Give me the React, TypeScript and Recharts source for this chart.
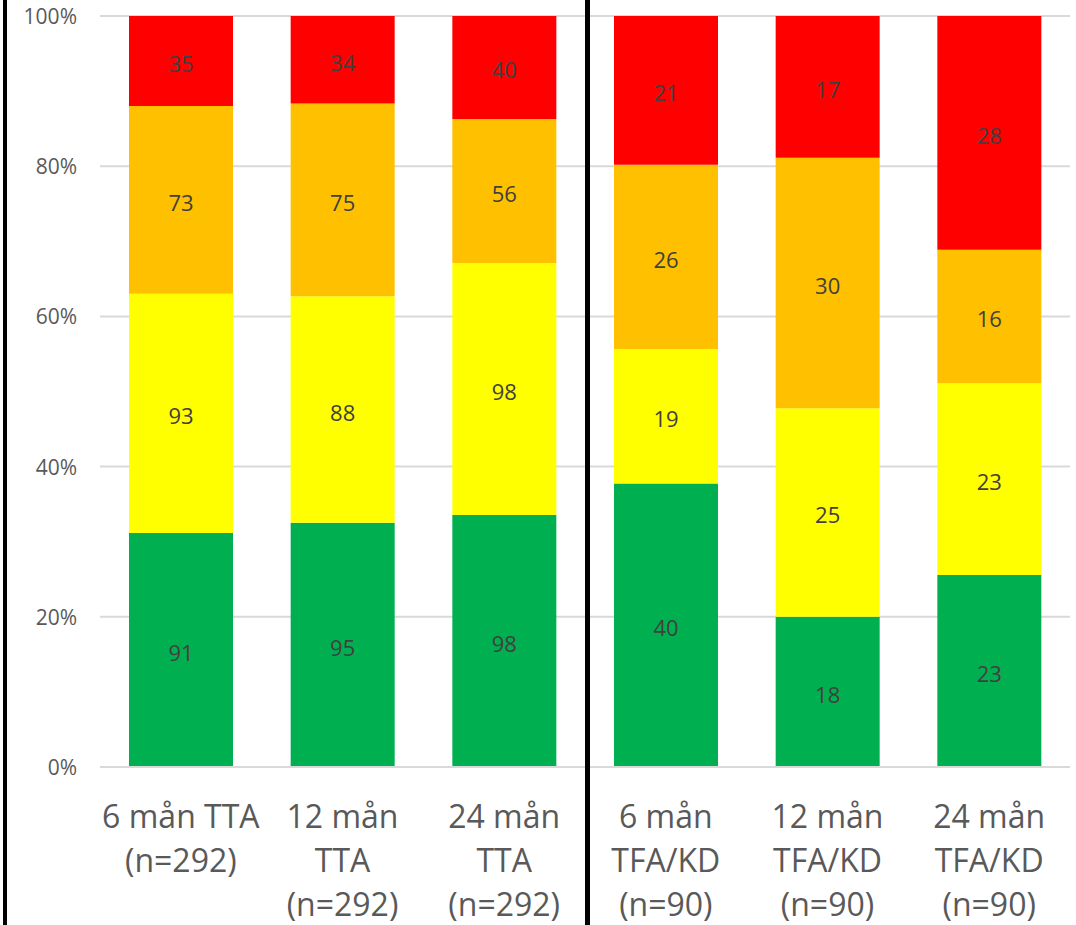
import React from "react";
import {
  BarChart,
  Bar,
  XAxis,
  YAxis,
  CartesianGrid,
  LabelList,
} from "recharts";

// groups: three TTA follow-ups, then three TFA/KD follow-ups
const periods = ["6 mån TTA", "12 mån TTA", "24 mån TTA", "6 mån TFA/KD", "12 mån TFA/KD", "24 mån TFA/KD"];
const tickLines = [
  ["6 mån TTA", "(n=292)"],
  ["12 mån", "TTA", "(n=292)"],
  ["24 mån", "TTA", "(n=292)"],
  ["6 mån", "TFA/KD", "(n=90)"],
  ["12 mån", "TFA/KD", "(n=90)"],
  ["24 mån", "TFA/KD", "(n=90)"],
];

// patient counts per outcome level
const green = [91, 95, 98, 40, 18, 23];
const yellow = [93, 88, 98, 19, 25, 23];
const orange = [73, 75, 56, 26, 30, 16];
const red = [35, 34, 40, 21, 17, 28];

const yTicks = [0, 0.2, 0.4, 0.6, 0.8, 1];

const data = periods.map((name, i) => ({
  name,
  green: green[i],
  yellow: yellow[i],
  orange: orange[i],
  red: red[i],
}));

const FONT = "'Open Sans', 'Noto Sans', sans-serif";
const AXIS_TEXT = "#595959";
const LABEL_TEXT = "#404040";

function PeriodTick(props: any) {
  const { x, y, payload } = props;
  const lines = tickLines[payload.index] ?? [String(payload.value)];
  return (
    <text
      x={x}
      y={y}
      textAnchor="middle"
      fill={AXIS_TEXT}
      fontSize={32}
      fontFamily={FONT}
    >
      {lines.map((line, i) => (
        <tspan key={i} x={x} y={y + 61 + i * 44}>
          {line}
        </tspan>
      ))}
    </text>
  );
}

function SegmentLabel(props: any) {
  const { x, y, width, height, value } = props;
  return (
    <text
      x={x + width / 2}
      y={y + height / 2 + 2}
      textAnchor="middle"
      dominantBaseline="central"
      fill={LABEL_TEXT}
      fontSize={22}
      fontFamily={FONT}
    >
      {value}
    </text>
  );
}

function PercentTick(props: any) {
  const { x, y, payload } = props;
  return (
    <text
      x={x}
      y={y}
      textAnchor="end"
      dominantBaseline="central"
      fill={AXIS_TEXT}
      fontSize={21}
      fontFamily={FONT}
    >
      {`${Math.round(payload.value * 100)}%`}
    </text>
  );
}

export default function App() {
  return (
    <div style={{ position: "absolute", left: 0, top: 0, width: 1076, height: 925, background: "#fff" }}>
      <BarChart
        width={1076}
        height={925}
        data={data}
        stackOffset="expand"
        barSize={104}
        margin={{ top: 16, right: 6, bottom: 0, left: 0 }}
      >
        <CartesianGrid vertical={false} stroke="#d9d9d9" strokeWidth={2} />
        <XAxis
          dataKey="name"
          height={158}
          interval={0}
          axisLine={{ stroke: "#d9d9d9", strokeWidth: 2 }}
          tickLine={false}
          tickSize={0}
          tickMargin={0}
          tick={<PeriodTick />}
        />
        <YAxis
          width={100}
          domain={[0, 1]}
          ticks={yTicks}
          axisLine={false}
          tickLine={false}
          tickMargin={17}
          tick={<PercentTick />}
        />
        <Bar dataKey="green" stackId="a" fill="#00b050" isAnimationActive={false}>
          <LabelList dataKey="green" content={<SegmentLabel />} />
        </Bar>
        <Bar dataKey="yellow" stackId="a" fill="#ffff00" isAnimationActive={false}>
          <LabelList dataKey="yellow" content={<SegmentLabel />} />
        </Bar>
        <Bar dataKey="orange" stackId="a" fill="#ffc000" isAnimationActive={false}>
          <LabelList dataKey="orange" content={<SegmentLabel />} />
        </Bar>
        <Bar dataKey="red" stackId="a" fill="#ff0000" isAnimationActive={false}>
          <LabelList dataKey="red" content={<SegmentLabel />} />
        </Bar>
      </BarChart>
      {/* frame on the left and divider between the two groups */}
      <div style={{ position: "absolute", left: 3, top: 0, width: 4, height: 925, background: "#000" }} />
      <div style={{ position: "absolute", left: 585, top: 0, width: 5, height: 925, background: "#000" }} />
    </div>
  );
}
